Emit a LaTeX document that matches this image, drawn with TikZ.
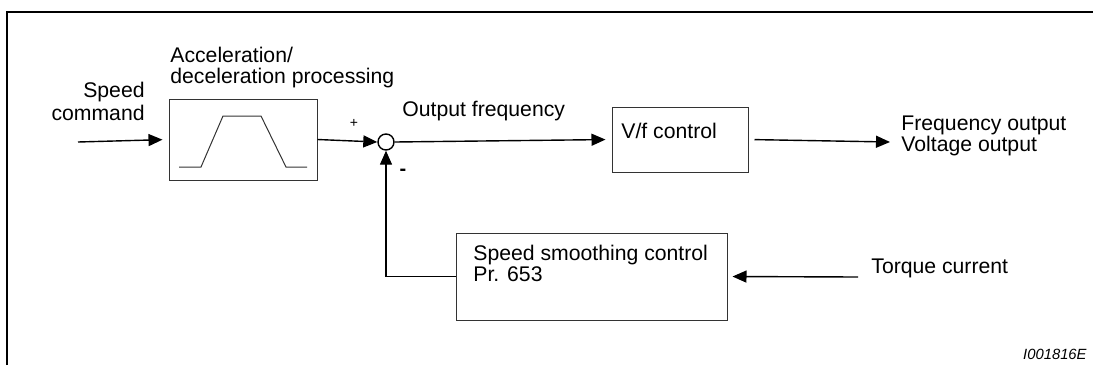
\documentclass[tikz,border=0pt]{standalone}
\usepackage{fontspec}
\setmainfont{Liberation Sans}
\usetikzlibrary{arrows.meta, positioning}

\begin{document}
\begin{tikzpicture}[
        x=0.5pt, y=-0.5pt,
        block/.style={draw=black!80, line width=0.5pt, rectangle, inner sep=0pt},
        lbl/.style={font=\fontsize{10.6}{10.5}\selectfont, inner sep=0pt, align=left},
        sign/.style={font=\fontsize{7}{7}\selectfont, inner sep=0pt},
        arrow/.style={-{Triangle[length=7pt, width=6pt]}, line width=0.7pt},
        line/.style={line width=0.7pt}
    ]
        \useasboundingbox (0,0) rectangle (1093,365);
        % Rahmen
        \draw[line width=1.2pt] (7,365) -- (7,12) -- (1093,12);

        % 1. Hochlauf-/Runterlauf-Block
        \node[block, minimum width=74pt, minimum height=40.5pt] (acc) at (243,139.5) {};
        \draw[line width=0.5pt, draw=black!80] (179,167) -- (201,167) -- (223,116) -- (261,116) -- (286,167) -- (307,167);
        \node[lbl, anchor=north west] (acclbl) at (170,47) {Acceleration/\\deceleration processing};
        \coordinate (in) at (78,142);
        \node[lbl, anchor=north east, align=right, font=\fontsize{10.6}{11.5}\selectfont] (inlbl) at (145,82) {Speed\\command};
        \draw[arrow, shorten >=3pt] (in) -- (acc.west);

        % 2. Summierstelle
        \node[draw, circle, line width=0.7pt, minimum size=8pt, inner sep=0pt] (sum) at (386,142) {};
        \draw[arrow] (acc.east) -- (sum.west);
        \node[sign] (plus) at (354,123) {+};
        \node[sign, font=\fontsize{10}{10}\selectfont\bfseries] (minus) at (403,172) {-};

        % 3. V/f-Steuerung
        \node[block, minimum width=68pt, minimum height=32.5pt] (vf) at (680,139.5) {};
        \node[lbl, anchor=north west] (vflbl) at (621,123) {V/f control};
        \node[lbl, anchor=north west] (freqlbl) at (402,101) {Output frequency};
        \draw[arrow, shorten >=3pt] (sum.east) -- (vf.west);
        \coordinate (out) at (890,142);
        \draw[arrow, shorten <=3pt] (vf.east) -- (out);
        \node[lbl, anchor=north west] (outlbl) at (901,116) {Frequency output\\Voltage output};

        % 4. Drehzahlglaettung (Rueckfuehrung)
        \node[block, minimum width=135.5pt, minimum height=43.5pt] (smooth) at (591.5,276.5) {};
        \node[lbl, anchor=north west] (smoothlbl) at (473,245) {Speed smoothing control\\Pr. 653};
        \coordinate (torque) at (858,277);
        \draw[arrow, shorten >=2.5pt] (torque) -- (smooth.east);
        \node[lbl, anchor=north west] (torquelbl) at (871,259) {Torque current};
        \draw[arrow] (smooth.west) -| (sum.south);

        % Bildnummer
        \node[inner sep=0pt, anchor=base east, font=\fontsize{7.4}{7.4}\selectfont\itshape] (fig) at (1087,359) {I001816E};
    \end{tikzpicture}
\end{document}
